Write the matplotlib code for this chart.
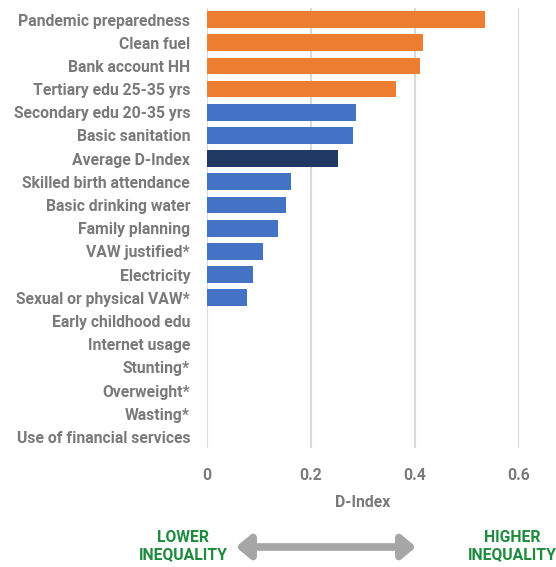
import matplotlib
matplotlib.use("Agg")
import matplotlib.pyplot as plt

# Indicators, top to bottom
labels = ['Pandemic preparedness', 'Clean fuel', 'Bank account HH',
          'Tertiary edu 25-35 yrs', 'Secondary edu 20-35 yrs', 'Basic sanitation',
          'Average D-Index', 'Skilled birth attendance', 'Basic drinking water',
          'Family planning', 'VAW justified*', 'Electricity', 'Sexual or physical VAW*',
          'Early childhood edu', 'Internet usage', 'Stunting*', 'Overweight*',
          'Wasting*', 'Use of financial services']
d_index = [0.536, 0.415, 0.411, 0.363, 0.286, 0.282, 0.252, 0.161, 0.152,
           0.137, 0.109, 0.089, 0.078, 0, 0, 0, 0, 0, 0]
groups = ['high'] * 4 + ['mid'] * 2 + ['avg'] + ['mid'] * 12

colors = {'high': '#ED7D31', 'mid': '#4472C4', 'avg': '#203864'}
gray = '#7A7A7A'
green = '#1E8B3E'
fs = 11.3

plt.rcParams['font.family'] = ['Roboto', 'DejaVu Sans']

fig = plt.figure(figsize=(5.56, 5.67), dpi=100)
ax = fig.add_axes([0.372, 0.209, 0.561, 0.777])

ypos = list(range(len(labels)))
ax.barh(ypos, d_index, height=0.72, color=[colors[g] for g in groups], zorder=3)

ax.set_xlim(0, 0.6)
ax.set_ylim(len(labels) - 0.5, -0.5)
ax.set_xticks([0, 0.2, 0.4, 0.6])
ax.set_xticklabels(['0', '0.2', '0.4', '0.6'])
ax.set_yticks(ypos)
ax.set_yticklabels(labels)
ax.grid(axis='x', color='#D9D9D9', linewidth=1.5, zorder=0)
for s in ax.spines.values():
    s.set_visible(False)
ax.tick_params(axis='y', length=0, pad=12, labelsize=fs, labelcolor=gray)
ax.tick_params(axis='x', length=0, pad=14, labelsize=fs, labelcolor=gray)
for t in ax.get_yticklabels() + ax.get_xticklabels():
    t.set_fontweight('bold')
ax.set_xlabel('D-Index', fontsize=fs, color=gray, fontweight='bold', labelpad=9)

# Inequality direction annotation
fig.text(183 / 556, 1 - 546 / 567, 'LOWER\nINEQUALITY', ha='center', va='center',
         color=green, fontsize=fs, fontweight='bold', linespacing=1.15)
fig.text(512 / 556, 1 - 546 / 567, 'HIGHER\nINEQUALITY', ha='center', va='center',
         color=green, fontsize=fs, fontweight='bold', linespacing=1.15)
fig.add_artist(matplotlib.patches.FancyArrowPatch(
    (236 / 556, 1 - 547 / 567), (416 / 556, 1 - 547 / 567),
    transform=fig.transFigure, arrowstyle='<|-|>,head_length=0.45,head_width=0.38',
    mutation_scale=18, color='#A6A6A6', linewidth=5.5, shrinkA=0, shrinkB=0))

fig.savefig('out.png', dpi=100)
